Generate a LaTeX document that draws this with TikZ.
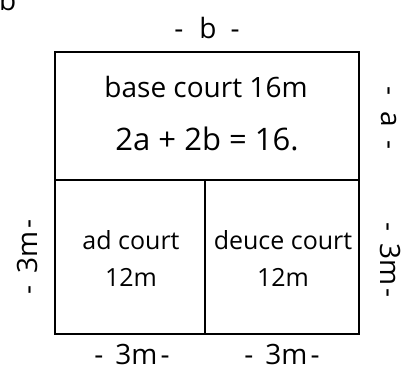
\documentclass[tikz,border=0pt]{standalone}
\usepackage{fontspec}
\setmainfont{Open Sans}
\begin{document}
\begin{tikzpicture}[x=1pt,y=1pt,
  court/.style={draw=black, line width=2.8pt, inner sep=0pt},
  lbl/.style={font=\fontsize{28}{30}\selectfont, inner sep=0pt, text=black, anchor=base},
  big/.style={font=\fontsize{25}{37}\selectfont, inner sep=0pt, text=black, align=center}]
\useasboundingbox (0,0) rectangle (403,-367);
% outer courts
\draw[court] (55,-52) rectangle (359,-334);
\coordinate (ml) at (55,-180);
\coordinate (mr) at (359,-180);
\coordinate (dt) at (205,-180);
\coordinate (db) at (205,-334);
\draw[court] (ml) -- (mr);
\draw[court] (dt) -- (db);
% texts
\node[lbl, anchor=base west] (fragment) at (-1,-10) {b};
\node[lbl] (topb) at (207,-38) {-\hspace{16pt}b\hspace{14pt}-};
\node[big, anchor=base, font=\fontsize{28}{30}\selectfont] (base) at (206,-97) {base court 16m};
\node[big, anchor=base, font=\fontsize{31}{34}\selectfont] (eq) at (207,-150) {2a + 2b = 16.};
\node[big, anchor=base] (ad) at (131,-249) {ad court};
\node[big, anchor=base] (ad12) at (131,-286) {12m};
\node[big, anchor=base] (deuce) at (283,-249) {deuce court};
\node[big, anchor=base] (deuce12) at (283,-286) {12m};
\node[lbl] (b1) at (132,-364) {-\hspace{12pt}3m\hspace{3pt}-};
\node[lbl] (b2) at (282,-364) {-\hspace{12pt}3m\hspace{3pt}-};
\node[lbl, rotate=90] (left) at (37,-257) {-\hspace{12pt}3m\hspace{3pt}-};
\node[lbl, rotate=-90] (ra) at (381,-118) {-\hspace{16pt}a\hspace{14pt}-};
\node[lbl, rotate=-90] (r3) at (380,-260) {-\hspace{12pt}3m\hspace{3pt}-};
\end{tikzpicture}
\end{document}
